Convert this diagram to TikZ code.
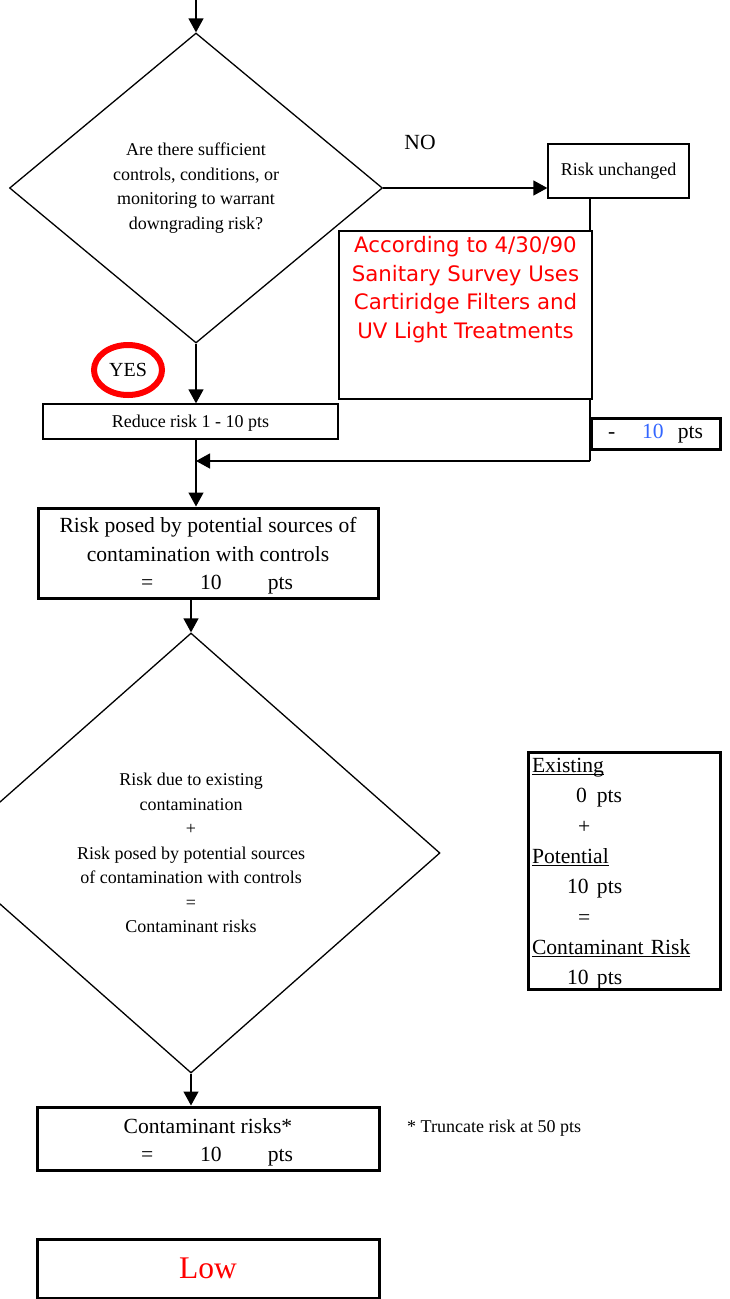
\documentclass[tikz,border=0pt]{standalone}
\usepackage{fontspec}
\setmainfont{Liberation Serif}
\newfontfamily\notefont{DejaVu Sans}
\usetikzlibrary{shapes.geometric,arrows.meta}
\definecolor{ptsblue}{RGB}{51,102,255}
% underline at a fixed depth, crossing descenders
\newcommand{\uln}[1]{\leavevmode\setbox0=\hbox{#1}\rlap{\rule[-2.4pt]{\wd0}{1.1pt}}\box0}
\begin{document}
\begin{tikzpicture}[x=1pt,y=-1pt,
  wire/.style={line width=1.3pt},
  flow/.style={line width=1.3pt,-{Triangle[length=14pt,width=15pt]}},
  plainbox/.style={draw,line width=1.3pt,inner sep=0pt,align=center},
  heavybox/.style={draw,line width=3pt,inner sep=0pt,align=center},
  decision/.style={draw,diamond,line width=1.3pt,inner sep=0pt,align=center},
  small/.style={font=\fontsize{18}{24.4}\selectfont},
  large/.style={font=\fontsize{21.6}{28.3}\selectfont}]
\clip (0,0) rectangle (729,1299);
\fill[white] (0,0) rectangle (729,1299);

% first decision
\coordinate (entry) at (196,0);
\node[decision,small,minimum width=373pt,minimum height=310pt] (q1) at (196,188)
  {Are there sufficient\\controls, conditions, or\\monitoring to warrant\\downgrading risk?};
\node[large,inner sep=0pt] (no) at (420,142) {NO};
\node[plainbox,small,minimum width=141pt,minimum height=54pt] (ru) at (618.5,171) {Risk unchanged};
\node[plainbox,small,minimum width=295pt,minimum height=35pt] (reduce) at (190.5,421.5) {\rule{0pt}{15pt}Reduce risk 1 - 10 pts};
\node[draw=red,line width=6pt,ellipse,inner sep=0pt,minimum width=68pt,minimum height=50pt,
  font=\fontsize{20}{24}\selectfont] (yes) at (128,370) {YES};

% result of the potential sources
\node[heavybox,large,minimum width=340pt,minimum height=90pt] (posed) at (208,553)
  {\rule{0pt}{21pt}Risk posed by potential sources of\\contamination with controls\\
   \hspace*{18pt}=\hspace{47pt}10\hspace{46pt}pts};

% second decision
\node[decision,font=\fontsize{18}{24.5}\selectfont,minimum width=498pt,minimum height=440pt] (q2) at (191,853)
  {Risk due to existing\\contamination\\+\\Risk posed by potential sources\\of contamination with controls\\=\\Contaminant risks};

\node[heavybox,large,minimum width=342pt,minimum height=63pt] (cr) at (208,1138.5)
  {\rule{0pt}{22.7pt}Contaminant risks*\\\hspace*{18pt}=\hspace{47pt}10\hspace{46pt}pts};
\node[small,anchor=base west,inner sep=0pt] (trunc) at (407,1132) {* Truncate risk at 50 pts};
\node[heavybox,minimum width=342pt,minimum height=59pt,font=\fontsize{31.5}{36}\selectfont,text=red] (low) at (208,1268.5) {Low};

% tally of the points
\node[heavybox,align=left,minimum width=192pt,minimum height=236pt,text width=184pt,
  font=\fontsize{21.6}{30.3}\selectfont] (tally) at (624,871)
  {\rule{0pt}{20pt}\uln{Existing}\\
   \hspace*{44pt}0\hspace{10pt}pts\\
   \hspace*{46pt}+\\
   \uln{Potential}\\
   \hspace*{35pt}10\hspace{8.4pt}pts\\
   \hspace*{46pt}=\\
   \uln{Contaminant Risk}\\
   \hspace*{35pt}10\hspace{8.4pt}pts};

% connectors
\coordinate (bend) at (590,461);
\coordinate (merge) at (196,461);
\draw[flow] (entry) -- (q1.north);
\draw[flow] (q1.east) -- (q1.east -| ru.west);
\draw[wire] (ru.south -| bend) -- (bend);
\draw[flow] (bend) -- (merge);
\draw[flow] (q1.south) -- (q1.south |- reduce.north);
\draw[flow] (q1.south |- reduce.south) -- (q1.south |- posed.north);
\draw[flow] (q2.north |- posed.south) -- (q2.north);
\draw[flow] (q2.south) -- (q2.south |- cr.north);

% note over the drop line
\node[draw,line width=1.3pt,fill=white,inner sep=0pt,minimum width=253pt,minimum height=168pt] (note) at (465.5,315)
  {\parbox[c][168pt][t]{250pt}{\vspace{5.6pt}\centering\notefont\fontsize{21.3}{28.5}\selectfont\color{red}
   According to 4/30/90\\Sanitary Survey Uses\\Cartiridge Filters and\\UV Light Treatments}};
\node[heavybox,large,minimum width=129pt,minimum height=31pt] (deduct) at (655.5,433.5)
  {-\hspace{27pt}\textcolor{ptsblue}{10}\hspace{14pt}pts};
\end{tikzpicture}
\end{document}
